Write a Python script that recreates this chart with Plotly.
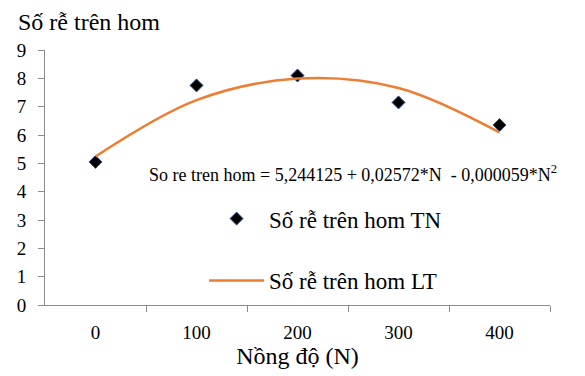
import plotly.graph_objects as go

# Data
nong_do = [0, 100, 200, 300, 400]
so_re_tn = [5.05, 7.75, 8.1, 7.15, 6.35]      # observed (TN)
so_re_lt = [5.24, 7.23, 7.99, 7.66, 6.09]     # theoretical (LT)
x_ticks = [0, 100, 200, 300, 400]
y_ticks = [0, 1, 2, 3, 4, 5, 6, 7, 8, 9]

FONT = "Liberation Serif"

fig = go.Figure()
fig.add_trace(go.Scatter(
    x=nong_do, y=so_re_tn, mode="markers", name="Số rễ trên hom TN",
    marker=dict(symbol="diamond", size=10, color="black",
                line=dict(color="#2F5597", width=1)),
    legendgroup="a",
))
fig.add_trace(go.Scatter(
    x=nong_do, y=so_re_lt, mode="lines", name="Số rễ trên hom LT",
    line=dict(color="#ED7D31", width=2.5, shape="spline"),
    legendgroup="b",
))
# invisible trace to carry boundary tick marks on overlay axis
fig.add_trace(go.Scatter(x=[nong_do[0]], y=[so_re_tn[0]], xaxis="x2",
                         mode="markers", marker=dict(opacity=0),
                         showlegend=False, hoverinfo="skip"))

fig.update_layout(
    width=585, height=376,
    margin=dict(l=45, r=35, t=50, b=69),
    paper_bgcolor="white", plot_bgcolor="white",
    font=dict(family=FONT, color="black"),
    title=dict(text="Số rễ trên hom", x=18/585, xanchor="left",
               y=1-22/376, yanchor="middle",
               font=dict(family=FONT, size=24, color="black")),
    xaxis=dict(range=[-50, 450], tickvals=x_ticks, ticktext=[str(v) for v in x_ticks],
               ticks="", showgrid=False, zeroline=False, showline=True,
               linecolor="#8c8c8c", linewidth=1, ticklabelstandoff=10,
               tickfont=dict(family=FONT, size=19, color="black"),
               title=dict(text="Nồng độ (N)", font=dict(family=FONT, size=24, color="black"),
                          standoff=4)),
    xaxis2=dict(range=[-50, 450], overlaying="x", side="bottom",
                tickvals=[50, 150, 250, 350, 450], ticks="outside", ticklen=6,
                tickcolor="#8c8c8c", showticklabels=False, showgrid=False,
                zeroline=False, showline=False),
    yaxis=dict(range=[0, 9], tickvals=y_ticks, ticks="outside", ticklen=6,
               tickcolor="#8c8c8c", showgrid=False, zeroline=False,
               showline=True, linecolor="#8c8c8c", linewidth=1, ticklabelstandoff=8,
               tickfont=dict(family=FONT, size=19, color="black")),
    legend=dict(x=0.315, y=0.423, xanchor="left", yanchor="top",
                font=dict(family=FONT, size=23, color="black"),
                bgcolor="rgba(0,0,0,0)", tracegroupgap=29,
                traceorder="grouped", itemwidth=55),
    showlegend=True,
)

fig.add_annotation(
    text="So re tren hom = 5,244125 + 0,02572*N  - 0,000059*N<sup>2</sup>",
    xref="paper", yref="paper", x=0.61, y=0.514, xanchor="center", yanchor="middle",
    showarrow=False, font=dict(family=FONT, size=18, color="black"),
)

fig.write_html("out.html")
